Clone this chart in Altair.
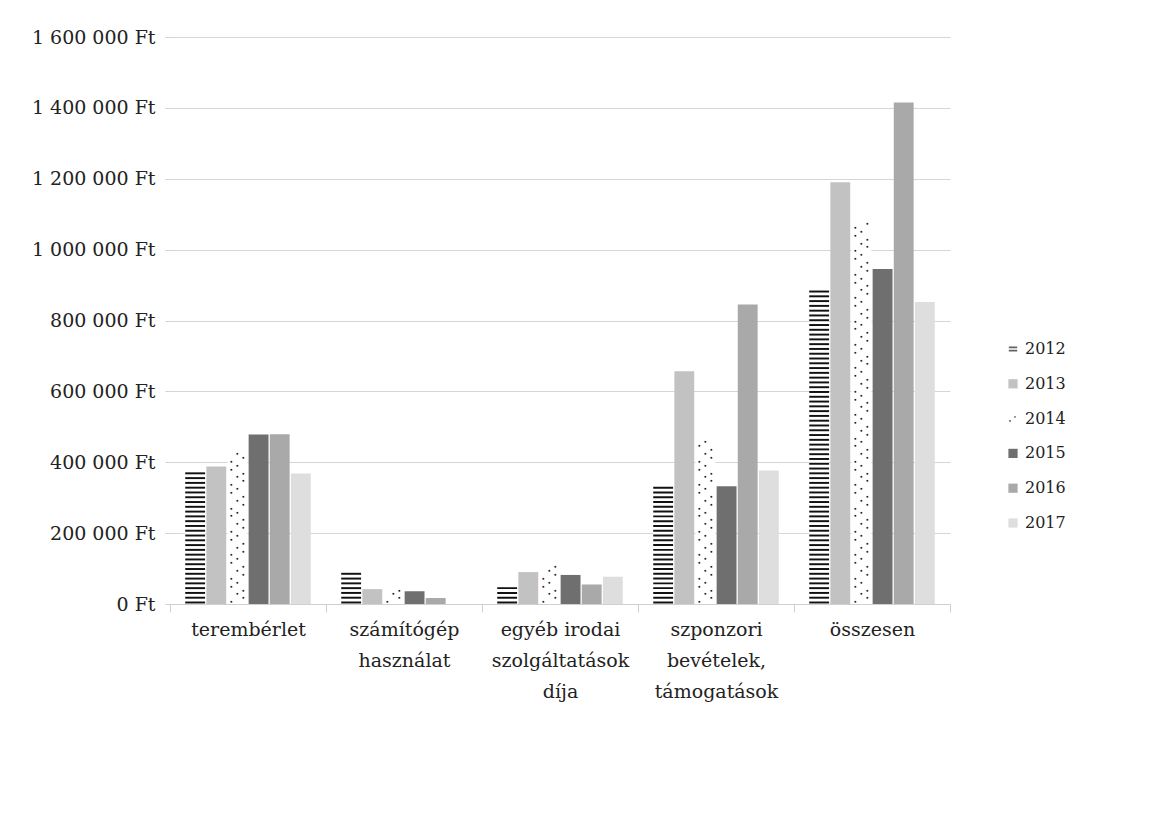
import altair as alt
import pandas as pd

categories = ["terembérlet", "számítógép|használat", "egyéb irodai|szolgáltatások|díja",
              "szponzori|bevételek,|támogatások", "összesen"]
years = ["2012", "2013", "2014", "2015", "2016", "2017"]
values = {
    "2012": [374000, 88000, 60000, 343000, 895000],
    "2013": [388000, 42000, 90000, 657000, 1190000],
    "2014": [429000, 47000, 110000, 462000, 1080000],
    "2015": [478000, 36000, 82000, 332000, 945000],
    "2016": [479000, 17000, 55000, 845000, 1415000],
    "2017": [368000, 0, 77000, 377000, 852000],
}
fills = ["#ffffff", "#c2c2c2", "#ffffff", "#6f6f6f", "#a9a9a9", "#dedede"]
y_ticks = [0, 200000, 400000, 600000, 800000, 1000000, 1200000, 1400000, 1600000]

FONT = "DejaVu Serif"

rows = []
for y in years:
    for c, v in zip(categories, values[y]):
        rows.append({"cat": c, "year": y, "value": v})
df = pd.DataFrame(rows)

# stripe pattern for 2012 (derived from the 2012 values)
stripe_rows = []
for c, v in zip(categories, values["2012"]):
    k = 0
    while True:
        y0 = 1500 + k * 13500
        y1 = y0 + 5500
        if y1 > v:
            break
        stripe_rows.append({"cat": c, "year": "2012", "y0": y0, "y1": y1})
        k += 1
stripes = pd.DataFrame(stripe_rows)

# dot pattern for 2014 (derived from the 2014 values)
dot_rows = []
order = [0, 2, 1, 2, 0, 1]
for c, v in zip(categories, values["2014"]):
    k = 0
    while True:
        yv = 5000 + k * 11000
        if yv > v - 3000:
            break
        dot_rows.append({"cat": c, "year": "2014", "y": yv, "col": order[k % 6]})
        k += 1
dots = pd.DataFrame(dot_rows)

x_enc = alt.X("cat:N", sort=categories, title=None,
              scale=alt.Scale(paddingInner=0, paddingOuter=0),
              axis=alt.Axis(labelExpr="split(datum.label, '|')", labelAngle=0,
                            labelFont=FONT, labelFontSize=19, labelColor="#222222",
                            labelLineHeight=31, labelPadding=8, labelLimit=400,
                            labelBaseline="top",
                            tickBand="extent", tickSize=8, tickColor="#cfcfcf",
                            domainColor="#cfcfcf", grid=False))
xoff = alt.XOffset("year:N", sort=years,
                   scale=alt.Scale(domain=years, paddingInner=0.06, paddingOuter=0.72))
y_scale = alt.Scale(domain=[0, 1600000], nice=False)
color_enc = alt.Color("year:N", scale=alt.Scale(domain=years, range=fills), legend=None)

bars = alt.Chart(df).mark_bar(strokeWidth=0).encode(
    x=x_enc,
    xOffset=xoff,
    y=alt.Y("value:Q", scale=y_scale, title=None,
            axis=alt.Axis(values=y_ticks, labelExpr="replace(format(datum.value, ',d'), /,/g, ' ') + ' Ft'",
                          labelFont=FONT, labelFontSize=19, labelColor="#222222",
                          labelPadding=10, tickSize=5, tickColor="#d0d0d0",
                          domain=False, gridColor="#d6d6d6", gridWidth=1)),
    color=color_enc,
)

stripe_layer = alt.Chart(stripes).mark_bar(color="#111111", strokeWidth=0).encode(
    x=alt.X("cat:N", sort=categories),
    xOffset=xoff,
    y=alt.Y("y0:Q", scale=y_scale),
    y2="y1:Q",
)

dot_layers = []
for col, dx in [(0, -6), (1, 0), (2, 6)]:
    dot_layers.append(
        alt.Chart(dots).transform_filter(alt.datum.col == col)
        .mark_text(text="●", fontSize=4.5, color="#1a1a1a", dx=dx,
                   align="center", baseline="middle")
        .encode(x=alt.X("cat:N", sort=categories), xOffset=xoff,
                y=alt.Y("y:Q", scale=y_scale))
    )

main = alt.layer(bars, stripe_layer, *dot_layers).properties(width=780, height=567)

# legend panel
leg_df = pd.DataFrame({"year": years})
leg_y = alt.Y("year:N", sort=years, axis=None,
              scale=alt.Scale(type="point", domain=years, range=[312, 486], padding=0))
leg_plain = alt.Chart(leg_df).transform_filter(
    alt.FieldOneOfPredicate(field="year", oneOf=["2013", "2015", "2016", "2017"])
).mark_square(size=85, opacity=1).encode(
    x=alt.value(13), y=leg_y,
    color=alt.Color("year:N", scale=alt.Scale(domain=years, range=fills), legend=None))
leg_2012 = alt.Chart(leg_df).transform_filter(alt.datum.year == "2012").mark_point(
    shape="M-1,-0.4H1M-1,0.4H1", size=70, stroke="#222222", strokeWidth=1.6, filled=False
).encode(x=alt.value(13), y=leg_y)
leg_2014a = alt.Chart(leg_df).transform_filter(alt.datum.year == "2014").mark_text(
    text="●", fontSize=4, color="#333333", dx=-3, dy=2).encode(x=alt.value(13), y=leg_y)
leg_2014b = alt.Chart(leg_df).transform_filter(alt.datum.year == "2014").mark_text(
    text="●", fontSize=4, color="#555555", dx=2, dy=-2).encode(x=alt.value(13), y=leg_y)
leg_text = alt.Chart(leg_df).mark_text(align="left", baseline="middle", font=FONT,
                                       fontSize=16, color="#222222").encode(
    x=alt.value(25), y=leg_y, text="year:N")
legend = alt.layer(leg_plain, leg_2012, leg_2014a, leg_2014b, leg_text).properties(
    width=100, height=567)

chart = alt.hconcat(main, legend, spacing=50, bounds="flush").properties(
    padding={"left": 23, "top": 20, "right": 5, "bottom": 5},
    background="white",
).configure_view(strokeWidth=0, stroke="transparent")

chart.save("out.html", embed_options={"renderer": "svg", "actions": False})
